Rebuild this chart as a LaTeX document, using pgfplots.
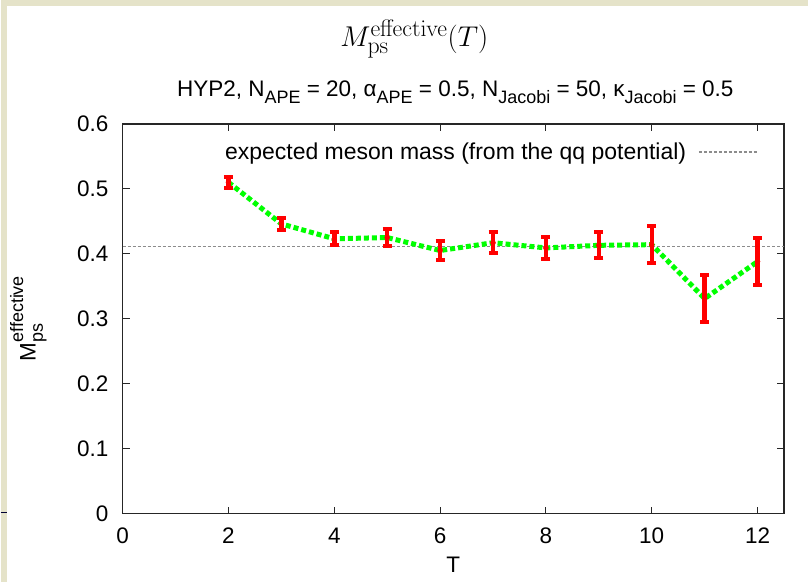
\documentclass[border=0pt]{standalone}
\usepackage[no-math]{fontspec}
\setmainfont{Liberation Sans}
\usepackage{pgfplots}
\pgfplotsset{compat=1.18}
\definecolor{beige}{RGB}{229,227,201}
\definecolor{lgreen}{RGB}{0,255,0}
\definecolor{dotgray}{RGB}{140,140,140}
\newcommand{\sub}[1]{\raisebox{-0.32em}{\fontsize{18}{18}\selectfont #1}}
\newcommand{\sups}[1]{\raisebox{0.55em}{\fontsize{18}{18}\selectfont #1}}
\begin{document}
\begin{tikzpicture}[x=1pt,y=1pt]
\fill[beige] (0,0) rectangle (808,583);
\fill[white] (6,0) rectangle (808,577);
\draw[black!80!blue, line width=1.5pt] (0,70) -- (6,70);
\node[anchor=center, inner sep=0pt, scale=1.15, transform shape] at (414,544) {\fontsize{24.88}{30}\selectfont $M_{\mathrm{ps}}^{\mathrm{effective}}(T)$};
\node[anchor=center, inner sep=0pt] at (455,491) {\fontsize{22.5}{27}\selectfont HYP2, N\sub{APE} = 20, α\sub{APE} = 0.5, N\sub{Jacobi} = 50, κ\sub{Jacobi} = 0.5};
\begin{axis}[
  at={(122pt,69pt)}, anchor=south west,
  scale only axis, width=662pt, height=390pt,
  xmin=0, xmax=12.5, ymin=0, ymax=0.6,
  xtick={0,2,4,6,8,10,12},
  ytick={0,0.1,0.2,0.3,0.4,0.5,0.6},
  tick align=inside,
  major tick length=7pt,
  axis line style={line width=1.5pt, black!85},
  tick style={line width=1pt, black!85},
  /pgf/number format/assume math mode=true,
  ticklabel style={font=\fontsize{22.5}{27}\selectfont},
  yticklabel style={inner sep=0pt, xshift=-14pt, /pgf/number format/fixed, /pgf/number format/precision=1},
  xticklabel style={inner sep=0pt, yshift=-14pt},
  xlabel={T},
  xlabel style={at={(axis description cs:0.5,0)}, anchor=north, yshift=-43pt, inner sep=0pt, font=\fontsize{22.5}{27}\selectfont},
  ylabel={M\rlap{\sub{ps}}\sups{effective}},
  ylabel style={at={(axis description cs:0,0.5)}, rotate=0, anchor=south, yshift=76pt, inner sep=0pt, font=\fontsize{22.5}{27}\selectfont},
  legend style={draw=none, fill=none, at={(axis description cs:0.96,0.928)}, anchor=east, inner sep=0pt, column sep=10pt, font=\fontsize{23}{27}\selectfont},
  legend cell align=right,
  legend plot pos=right,
  legend image code/.code={\draw[#1] (0pt,0pt) -- (58pt,0pt);},
]
\addplot[dotgray, line width=1.3pt, dash pattern=on 3pt off 2pt] coordinates {(0,0.411) (12.5,0.411)};
\addlegendentry{expected meson mass (from the qq potential)}
\addplot[lgreen, line width=5pt, dash pattern=on 5pt off 3pt, forget plot] coordinates {
(2,0.510) (3,0.446) (4,0.423) (5,0.425) (6,0.405) (7,0.417) (8,0.409) (9,0.413) (10,0.414) (11,0.331) (12,0.388)};
\addplot[red, only marks, mark=*, mark size=2.5pt, forget plot,
  error bars/.cd, y dir=both, y explicit,
  error bar style={red, line width=4.5pt},
  error mark=|, error mark options={red, mark size=4.5pt, line width=4pt}]
  coordinates {
(2,0.510) +- (0,0.008)
(3,0.446) +- (0,0.009)
(4,0.423) +- (0,0.010)
(5,0.425) +- (0,0.013)
(6,0.405) +- (0,0.014)
(7,0.417) +- (0,0.016)
(8,0.409) +- (0,0.017)
(9,0.413) +- (0,0.020)
(10,0.414) +- (0,0.028)
(11,0.331) +- (0,0.036)
(12,0.388) +- (0,0.036)};
\end{axis}
\end{tikzpicture}
\end{document}
